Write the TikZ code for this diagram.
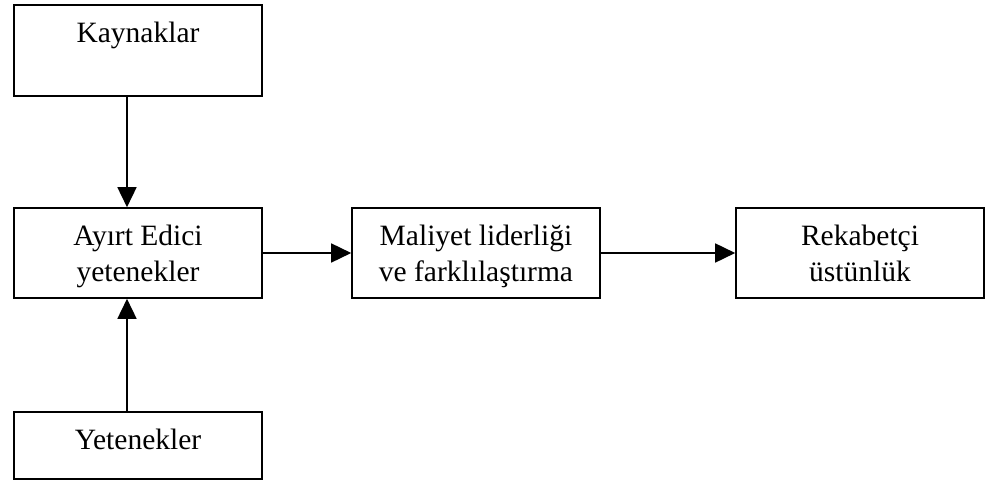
\documentclass[tikz,border=0pt]{standalone}
\usepackage{fontspec}
\setmainfont{Liberation Serif}
\usetikzlibrary{arrows.meta}
\begin{document}
\begin{tikzpicture}[x=1pt,y=-1pt,
  box/.style={draw=black,line width=1.6pt,inner sep=0pt,minimum width=248pt},
  txt/.style={anchor=north,inner sep=0pt,align=center,font=\fontsize{29.5}{36}\selectfont},
  link/.style={line width=1.6pt,-{Triangle[length=20pt,width=19pt]}}]
\useasboundingbox (0,0) rectangle (1001,481);
% boxes
\node[box,minimum height=91pt] (kay) at (138,50.5) {};
\node[box,minimum height=90pt] (ayirt) at (138,253) {};
\node[box,minimum height=67pt] (yet) at (138,445.5) {};
\node[box,minimum height=90pt] (mal) at (476,253) {};
\node[box,minimum height=90pt] (rek) at (860,253) {};
% labels, set near the top of each box
\node[txt] (kayt) at (138,22) {Kaynaklar};
\node[txt] (ayirtt) at (138,225) {Ayırt Edici\\yetenekler};
\node[txt] (yett) at (138,429) {Yetenekler};
\node[txt] (malt) at (476,225) {Maliyet liderliği\\ve farklılaştırma};
\node[txt] (rekt) at (860,225) {Rekabetçi\\üstünlük};
% connectors (the vertical ones run a little left of the box centres)
\draw[link] ([xshift=-11pt]kay.south) -- ([xshift=-11pt]ayirt.north);
\draw[link] ([xshift=-11pt]yet.north) -- ([xshift=-11pt]ayirt.south);
\draw[link] (ayirt.east) -- (mal.west);
\draw[link] (mal.east) -- (rek.west);
\end{tikzpicture}
\end{document}
